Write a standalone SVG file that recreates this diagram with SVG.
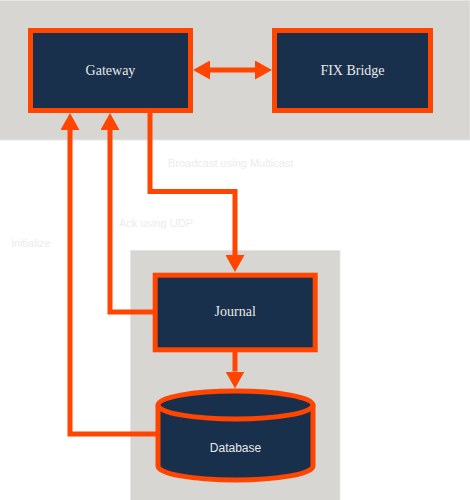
<svg xmlns="http://www.w3.org/2000/svg" width="470" height="500" viewBox="0 0 470 500">
<style>
.zone{fill:#d7d6d2;stroke:#e6e5e2;stroke-width:1}
.box{fill:#18304c;stroke:#ff4500;stroke-width:5}
.ntext{font-family:"Liberation Serif",serif;font-size:14px;fill:#e8e8e8;text-anchor:middle}
.stext{font-family:"Liberation Sans",Arial,sans-serif;font-size:12px;fill:#e8e8e8;text-anchor:middle}
.conn{fill:none;stroke:#ff4500;stroke-width:5}
.lbl{font-family:"Liberation Sans",Arial,sans-serif;font-size:11px;fill:#ececec}
</style>
<defs>
<marker id="ah" viewBox="0 0 17 19" refX="0" refY="9.5" markerWidth="17" markerHeight="19" markerUnits="userSpaceOnUse" orient="auto-start-reverse">
<path d="M0,0 L17,9.5 L0,19 Z" fill="#ff4500"/>
</marker>
</defs>
<rect class="zone" x="-1" y="0.5" width="471" height="139.5"/>
<rect class="zone" x="130.5" y="250.5" width="209.5" height="250"/>
<g id="connectors">
<path class="conn" d="M210,70 H255" marker-start="url(#ah)" marker-end="url(#ah)"/>
<path class="conn" d="M150,113 V191.5 H235 V255" marker-end="url(#ah)"/>
<path class="conn" d="M153,312 H110 V130" marker-end="url(#ah)"/>
<path class="conn" d="M156,434 H70 V130" marker-end="url(#ah)"/>
<path class="conn" d="M235,352 V371.5" marker-end="url(#ah)"/>
<text class="lbl" x="168" y="167">Broadcast using Multicast</text>
<text class="lbl" x="119" y="227">Ack using UDP</text>
<text class="lbl" x="11" y="247">Initialize</text>
</g>
<g id="gateway">
<rect class="box" x="30.5" y="30.5" width="160" height="80"/>
<text class="ntext" x="110.5" y="75">Gateway</text>
</g>
<g id="fix-bridge">
<rect class="box" x="274.5" y="30.5" width="156" height="80"/>
<text class="ntext" x="352.5" y="75">FIX Bridge</text>
</g>
<g id="journal">
<rect class="box" x="155.2" y="275.2" width="160" height="74.6"/>
<text class="ntext" x="235.2" y="316">Journal</text>
</g>
<g id="database">
<path class="box" d="M158,405 A77.5,14 0 0 1 313,405 V466 A77.5,14 0 0 1 158,466 Z"/>
<path fill="none" stroke="#ff4500" stroke-width="5" d="M158,405 A77.5,14 0 0 0 313,405"/>
<text class="stext" x="235.5" y="452">Database</text>
</g>
</svg>
